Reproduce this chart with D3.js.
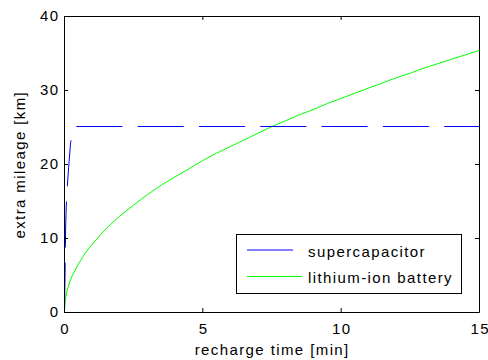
<!DOCTYPE html>
<html>
<head>
<meta charset="utf-8">
<script src="https://cdn.jsdelivr.net/npm/d3@7"></script>
<style>
    body { margin: 0; background: #fff; }
    text { font-family: "Liberation Sans", Arial, sans-serif; font-size: 15px; letter-spacing: 1.4px; fill: #000; }
</style>
</head>
<body>
<div id="chart"></div>
<script>
// values
var xTicks = [0, 5, 10, 15];
var yTicks = [0, 10, 20, 30, 40];

var capTime = [0, 0.02, 0.04, 0.06, 0.1, 0.15, 0.22, 0.3, 0.37, 0.43, 15];
var capKm = [0, 5, 11, 14, 16.8, 19.5, 22.8, 24.3, 24.8, 25, 25];

var liTime = [0, 0.02, 0.05, 0.1, 0.2, 0.3, 0.5, 0.75, 1, 1.5, 2, 2.5, 3, 3.5, 4, 4.5, 5,
    5.5, 6, 6.5, 7, 7.5, 8, 8.5, 9, 9.5, 10, 10.5, 11, 11.5, 12, 12.5, 13, 13.5, 14, 14.5, 15];
var liKm = [0, 1.3, 2.0, 2.9, 4.1, 5.0, 6.4, 7.9, 9.1, 11.2, 12.9, 14.4, 15.8, 17.1, 18.2, 19.3, 20.4,
    21.4, 22.3, 23.2, 24.1, 25.0, 25.8, 26.6, 27.3, 28.1, 28.8, 29.5, 30.2, 30.9, 31.6, 32.2, 32.9, 33.5, 34.1, 34.7, 35.3];

var seriesNames = ['supercapacitor', 'lithium-ion battery'];
var seriesColors = ['#0000ff', '#00ff00'];

function makeChart() {
    const width = 488;
    const height = 360;
    const left = 64, right = 479, top = 16, bottom = 312;
    const tick = 4;
    const dash = [46, 15.3];

    const xScale = d3.scaleLinear().domain([0, 15]).range([left, right]);
    const yScale = d3.scaleLinear().domain([0, 40]).range([bottom, top]);

    let svg = d3.select('#chart')
        .append('svg')
        .attr('width', width)
        .attr('height', height);

    svg.append('rect')
        .attr('width', width)
        .attr('height', height)
        .attr('fill', '#fff');

    // curves (shifted half a pixel so the flat dashes sit on one pixel row)
    let curves = svg.append('g').attr('transform', 'translate(0.5,-0.5)');

    const line = d3.line()
        .x((d) => xScale(d[0]))
        .y((d) => yScale(d[1]));

    const liData = liTime.map((t, i) => [t, liKm[i]]);
    const capData = capTime.map((t, i) => [t, capKm[i]]);

    curves.append('path')
        .attr('d', line(liData))
        .attr('fill', 'none')
        .attr('stroke', seriesColors[1])
        .attr('stroke-width', 1);

    let capPath = curves.append('path')
        .attr('d', line(capData))
        .attr('fill', 'none')
        .attr('stroke', seriesColors[0])
        .attr('stroke-width', 1)
        .attr('stroke-dasharray', dash.join(' '));

    // line the dashes up so one starts where the flat part begins
    let tmp = curves.append('path').attr('d', line(capData.slice(0, capData.length - 1)));
    const riseLen = tmp.node().getTotalLength();
    tmp.remove();
    const period = dash[0] + dash[1];
    capPath.attr('stroke-dashoffset', period - (riseLen % period));

    // axes, ticks pointing inward on all four sides
    svg.append('g')
        .attr('transform', `translate(0,${bottom})`)
        .call(d3.axisBottom(xScale).tickValues(xTicks).tickSizeInner(-tick).tickSizeOuter(0).tickPadding(11))
        .call((g) => g.selectAll('text').attr('dx', '0.7px'));

    svg.append('g')
        .attr('transform', `translate(0,${top})`)
        .call(d3.axisTop(xScale).tickValues(xTicks).tickSizeInner(-tick).tickSizeOuter(0).tickFormat(''));

    svg.append('g')
        .attr('transform', `translate(${left},0)`)
        .call(d3.axisLeft(yScale).tickValues(yTicks).tickSizeInner(-tick).tickSizeOuter(0).tickPadding(4.5));

    svg.append('g')
        .attr('transform', `translate(${right},0)`)
        .call(d3.axisRight(yScale).tickValues(yTicks).tickSizeInner(-tick).tickSizeOuter(0).tickFormat(''));

    svg.selectAll('.domain, .tick line').attr('stroke', '#000');
    svg.selectAll('g').attr('font-size', null).attr('font-family', null);

    // axis titles
    svg.append('text')
        .attr('x', (left + right) / 2 + 0.7)
        .attr('y', 355)
        .attr('text-anchor', 'middle')
        .text('recharge time [min]');

    svg.append('text')
        .attr('transform', `translate(25,${(top + bottom) / 2 + 0.7}) rotate(-90)`)
        .attr('text-anchor', 'middle')
        .text('extra mileage [km]');

    // legend
    let legend = svg.append('g');
    legend.append('rect')
        .attr('x', 236.5)
        .attr('y', 234.5)
        .attr('width', 225)
        .attr('height', 59)
        .attr('fill', '#fff')
        .attr('stroke', '#000');

    seriesNames.forEach((name, i) => {
        const ly = 250 + i * 26.5;
        let l = legend.append('line')
            .attr('x1', 247)
            .attr('x2', 302)
            .attr('y1', ly)
            .attr('y2', ly)
            .attr('stroke', seriesColors[i])
            .attr('stroke-width', 1);
        if (i == 0) {
            l.attr('stroke-dasharray', dash.join(' '));
        }
        legend.append('text')
            .attr('x', 308)
            .attr('y', ly + 6.5)
            .text(name);
    });
}

makeChart();
</script>
</body>
</html>
